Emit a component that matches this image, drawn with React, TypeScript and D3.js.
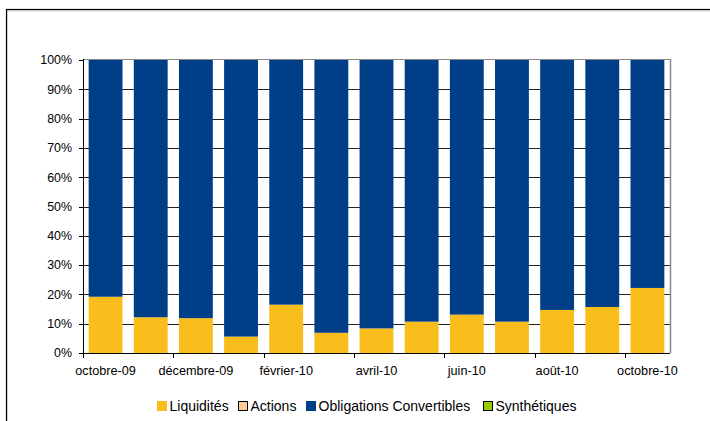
import React from 'react';
import * as d3 from 'd3';

const months = [
  'octobre-09', 'novembre-09', 'décembre-09', 'janvier-10', 'février-10', 'mars-10',
  'avril-10', 'mai-10', 'juin-10', 'juillet-10', 'août-10', 'septembre-10', 'octobre-10',
];
const liquidites = [19.2, 12.2, 11.9, 5.6, 16.5, 6.9, 8.4, 10.7, 13.1, 10.7, 14.7, 15.7, 22.2];
const actions = [0, 0, 0, 0, 0, 0, 0, 0, 0, 0, 0, 0, 0];
const synthetiques = [0, 0, 0, 0, 0, 0, 0, 0, 0, 0, 0, 0, 0];
const obligations = liquidites.map((v, i) => 100 - v - actions[i] - synthetiques[i]);

const seriesNames = ['Liquidités', 'Actions', 'Obligations Convertibles', 'Synthétiques'];
const seriesColors = ['#F9BE1C', '#FFCC99', '#003F87', '#99CC00'];
const yTicks = [0, 10, 20, 30, 40, 50, 60, 70, 80, 90, 100];

const W = 710;
const H = 421;
const margin = { top: 60, right: 40, bottom: 68, left: 83 };

const App = () => {
  const rows = months.map((m, i) => ({
    month: m,
    'Liquidités': liquidites[i],
    'Actions': actions[i],
    'Obligations Convertibles': obligations[i],
    'Synthétiques': synthetiques[i],
  }));
  const stacked = d3.stack().keys(seriesNames)(rows as any);

  const x = d3.scaleBand().domain(months).range([margin.left, W - margin.right]).padding(0);
  const y = d3.scaleLinear().domain([0, 100]).range([H - margin.bottom, margin.top]);
  const barW = x.bandwidth() * 0.75;
  const x0 = margin.left;
  const x1 = W - margin.right;
  const y0 = y(0);

  // legend layout
  const legendX = [157, 238, 306, 483];

  return (
    <svg width={W} height={H} style={{ position: 'absolute', left: 0, top: 0, fontFamily: "'Liberation Sans', Arial, sans-serif" }}>
      <rect x={0} y={0} width={W} height={H} fill="#fff" />
      {/* outer frame */}
      <rect x={7} y={11} width={W} height={H} fill="none" stroke="#c8c8c8" strokeWidth={1} />
      <rect x={6.5} y={9.5} width={W} height={H} fill="none" stroke="#000" strokeWidth={1.2} />

      {/* grid */}
      {yTicks.slice(1, -1).map((t) => (
        <line key={t} x1={x0} x2={x1} y1={Math.round(y(t)) + 0.5} y2={Math.round(y(t)) + 0.5} stroke="#222" strokeWidth={1} />
      ))}

      {/* bars */}
      {stacked.map((s, si) => (
        <g key={seriesNames[si]}>
          {s.map((d, i) =>
            d[1] - d[0] > 0 ? (
              <rect
                key={i}
                x={(x(months[i]) as number) + (x.bandwidth() - barW) / 2}
                y={y(d[1])}
                width={barW}
                height={y(d[0]) - y(d[1])}
                fill={seriesColors[si]}
              />
            ) : null
          )}
        </g>
      ))}

      {/* plot border top/right */}
      <line x1={x0} x2={x1} y1={y(100) - 0.5} y2={y(100) - 0.5} stroke="#888" strokeWidth={1} />
      <line x1={x1 + 0.5} x2={x1 + 0.5} y1={y(100) - 1} y2={y0} stroke="#888" strokeWidth={1.5} />

      {/* y axis */}
      <line x1={x0 + 0.5} x2={x0 + 0.5} y1={y(100) - 1} y2={y0 + 1} stroke="#000" />
      {yTicks.map((t) => (
        <g key={t}>
          <line x1={x0 - 4} x2={x0} y1={Math.round(y(t)) + 0.5} y2={Math.round(y(t)) + 0.5} stroke="#000" />
          <text x={72} y={y(t)} dy="0.35em" textAnchor="end" fontSize={12.4} fill="#000">
            {t}%
          </text>
        </g>
      ))}

      {/* x axis */}
      <line x1={x0} x2={x1} y1={Math.round(y0) + 0.5} y2={Math.round(y0) + 0.5} stroke="#000" />
      {months.map((m, i) =>
        i % 2 === 0 ? (
          <g key={m}>
            <line
              x1={Math.round(x(m) as number) + 0.5}
              x2={Math.round(x(m) as number) + 0.5}
              y1={y0}
              y2={y0 + 5}
              stroke="#000"
            />
            <text x={(x(m) as number) + x.bandwidth() / 2} y={375} textAnchor="middle" fontSize={12.7} fill="#000">
              {m}
            </text>
          </g>
        ) : null
      )}

      {/* legend */}
      {seriesNames.map((n, i) => (
        <g key={n}>
          <rect
            x={legendX[i] + 0.5}
            y={401.5}
            width={9}
            height={9}
            fill={seriesColors[i]}
            stroke={i === 1 || i === 3 ? '#000' : seriesColors[i]}
          />
          <text x={legendX[i] + 12.5} y={411} fontSize={14} fill="#000">
            {n}
          </text>
        </g>
      ))}
    </svg>
  );
};

export default App;
